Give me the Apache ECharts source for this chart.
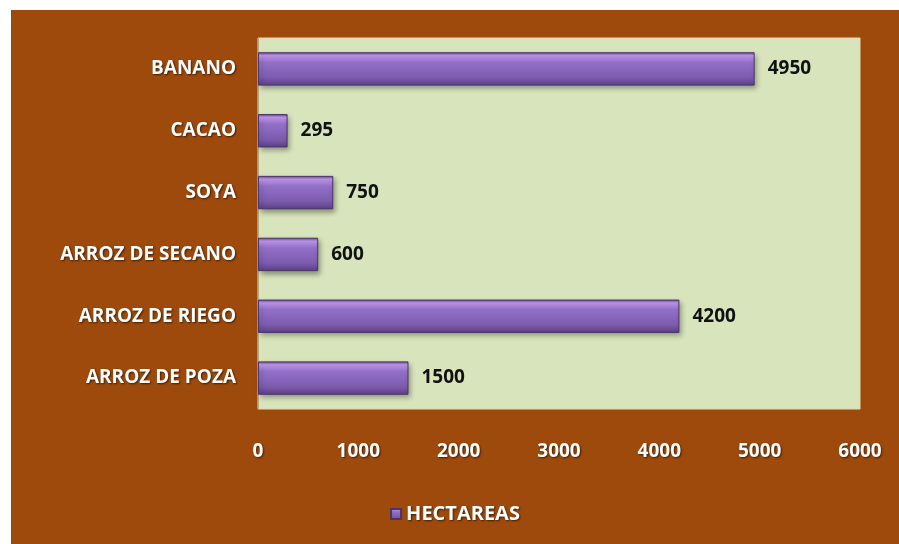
<!DOCTYPE html>
<html>
<head>
<meta charset="utf-8">
<script src="https://cdn.jsdelivr.net/npm/echarts@6/dist/echarts.min.js"></script>
<style>
html,body{margin:0;padding:0;background:#fff;}
#chart{position:absolute;left:11px;top:10px;width:888px;height:534px;}
</style>
</head>
<body>
<div id="chart"></div>
<script>
// cultivos y hectareas
const categories = ['ARROZ DE POZA', 'ARROZ DE RIEGO', 'ARROZ DE SECANO', 'SOYA', 'CACAO', 'BANANO']
const hectareas = [1500, 4200, 600, 750, 295, 4950]
const xTicks = [0, 1000, 2000, 3000, 4000, 5000, 6000]
const seriesName = 'HECTAREAS'

let myChart = echarts.init(document.getElementById('chart'))
let options = {
  backgroundColor: '#9E4A0C',
  textStyle: { fontFamily: 'Open Sans, Liberation Sans, sans-serif' },
  grid: {
    left: 247, right: 39, top: 28, bottom: 135,
    show: true,
    backgroundColor: '#D8E4BC',
    borderColor: '#E8D9A8',
    borderWidth: 1
  },
  legend: {
    data: [seriesName],
    bottom: 15,
    left: 'center',
    itemWidth: 10,
    itemHeight: 10,
    itemGap: 4,
    icon: 'rect',
    textStyle: {
      color: '#fff', fontWeight: 'bold', fontSize: 20,
      textShadowColor: 'rgba(0,0,0,0.6)', textShadowBlur: 2, textShadowOffsetX: 1, textShadowOffsetY: 1
    }
  },
  xAxis: {
    type: 'value',
    min: xTicks[0],
    max: xTicks[xTicks.length - 1],
    interval: 1000,
    splitLine: { show: false },
    axisLine: { show: false },
    axisTick: { show: false },
    axisLabel: {
      color: '#fff', fontWeight: 'bold', fontSize: 19, margin: 33,
      formatter: (v) => String(v),
      textShadowColor: 'rgba(0,0,0,0.6)', textShadowBlur: 2, textShadowOffsetX: 1, textShadowOffsetY: 1
    }
  },
  yAxis: {
    type: 'category',
    data: categories,
    axisLine: { show: true, lineStyle: { color: '#B8A880' } },
    axisTick: { show: false },
    axisLabel: {
      color: '#fff', fontWeight: 'bold', fontSize: 19, margin: 22,
      textShadowColor: 'rgba(0,0,0,0.6)', textShadowBlur: 2, textShadowOffsetX: 1, textShadowOffsetY: 1
    }
  },
  series: [{
    name: seriesName,
    type: 'bar',
    data: hectareas,
    barWidth: '54%',
    itemStyle: {
      color: new echarts.graphic.LinearGradient(0, 0, 0, 1, [
        { offset: 0, color: '#5E4680' },
        { offset: 0.1, color: '#C49AF0' },
        { offset: 0.3, color: '#9370C8' },
        { offset: 0.75, color: '#7D5CAE' },
        { offset: 1, color: '#5B3F85' }
      ]),
      borderColor: '#4A3468',
      borderWidth: 1,
      shadowColor: 'rgba(0,0,0,0.35)',
      shadowBlur: 5,
      shadowOffsetX: 2,
      shadowOffsetY: 3
    },
    label: {
      show: true,
      position: 'right',
      distance: 13,
      color: '#111',
      fontWeight: 'bold',
      fontSize: 19
    }
  }]
}
myChart.setOption(options)
</script>
</body>
</html>
